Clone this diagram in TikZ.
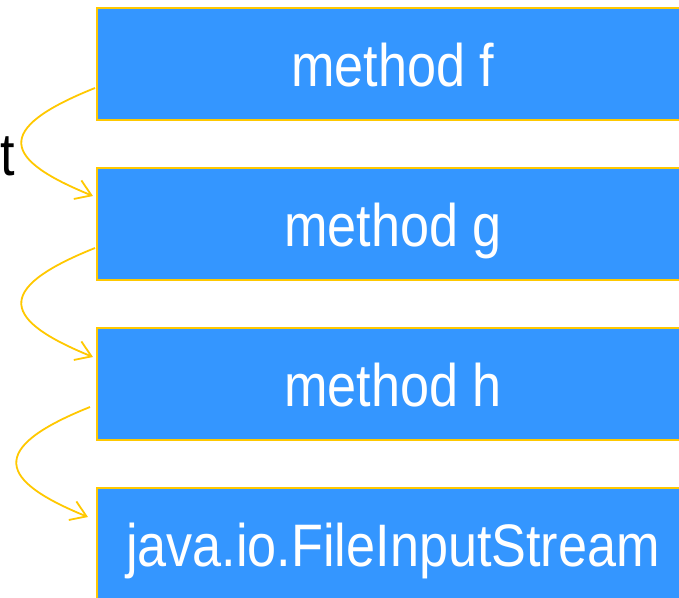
\documentclass[tikz,border=0pt]{standalone}
\usepackage{fontspec}
\newfontfamily\boxfont{Liberation Sans}[FakeStretch=0.87]
\usetikzlibrary{arrows.meta,calc}
\definecolor{boxblue}{RGB}{52,150,255}
\definecolor{edgeyellow}{RGB}{255,200,0}
\tikzset{
  callbox/.style={draw=edgeyellow, line width=2pt, fill=boxblue, text=white,
    minimum width=592pt, minimum height=112pt, anchor=north west, inner sep=0pt,
    font=\boxfont\fontsize{60}{72}\selectfont, text height=44pt, text depth=0pt},
  callarrow/.style={draw=edgeyellow, line width=1.8pt,
    -{Straight Barb[length=15pt,width=20pt,line width=1.8pt]}}
}
\begin{document}
\begin{tikzpicture}[x=1pt,y=-1pt]
\useasboundingbox (0,0) rectangle (679,597);
\clip (0,0) rectangle (679,597);
\node[callbox] (b1) at (96,7) {method f};
\node[callbox] (b2) at (96,167) {method g};
\node[callbox] (b3) at (96,327) {method h};
\node[callbox] (b4) at (96,487) {java.io.FileInputStream};
\node[anchor=base west, inner sep=0pt, font=\boxfont\fontsize{60}{72}\selectfont] (t) at (0,175) {t};
\coordinate (s1) at ($(b1.north west)+(-1,81)$);
\coordinate (e1) at ($(b2.north west)+(-3,29)$);
\coordinate (s2) at ($(b2.north west)+(-1,81)$);
\coordinate (e2) at ($(b3.north west)+(-3,30)$);
\coordinate (s3) at ($(b3.north west)+(-6,80)$);
\coordinate (e3) at ($(b4.north west)+(-8,30)$);
\draw[callarrow] (s1) .. controls ($(s1)+(-105,42)$) and ($(e1)+(-88,-36)$) .. (e1);
\draw[callarrow] (s2) .. controls ($(s2)+(-105,42)$) and ($(e2)+(-88,-36)$) .. (e2);
\draw[callarrow] (s3) .. controls ($(s3)+(-105,42)$) and ($(e3)+(-88,-36)$) .. (e3);
\end{tikzpicture}
\end{document}
